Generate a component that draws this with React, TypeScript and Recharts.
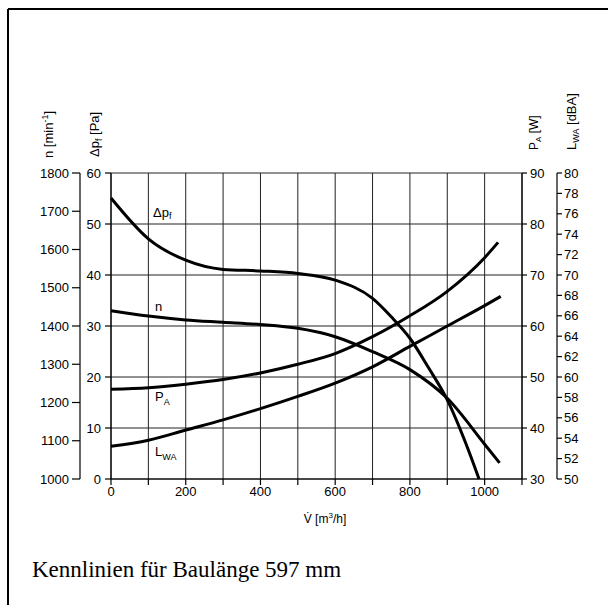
import React from 'react';
import { LineChart, Line, XAxis, YAxis, CartesianGrid } from 'recharts';

// Volumenstrom-Raster [m³/h]
const flowTicks = [0, 100, 200, 300, 400, 500, 600, 700, 800, 900, 1000, 1100];
const dpTicks = [0, 10, 20, 30, 40, 50, 60];
const nTicks = [1000, 1100, 1200, 1300, 1400, 1500, 1600, 1700, 1800];
const paTicks = [30, 40, 50, 60, 70, 80, 90];
const lwaTicks = [50, 52, 54, 56, 58, 60, 62, 64, 66, 68, 70, 72, 74, 76, 78, 80];

// Δp_f [Pa]
const dpFlow = [0, 100, 200, 300, 400, 500, 600, 700, 750, 800, 850, 900, 950, 985];
const dpValues = [55.1, 47.1, 42.9, 41.1, 40.8, 40.3, 39.0, 35.4, 31.8, 27.6, 21.8, 15.5, 6.9, 0];

// n [min-1]
const nFlow = [0, 100, 200, 300, 400, 500, 600, 700, 800, 900, 1000, 1040];
const nValues = [1440, 1426, 1416, 1410, 1404, 1394, 1372, 1333, 1286, 1211, 1091, 1042];

// P_A [W]
const paFlow = [0, 100, 200, 300, 400, 500, 600, 700, 800, 900, 1000, 1036];
const paValues = [47.6, 47.9, 48.6, 49.5, 50.8, 52.5, 54.6, 57.9, 62.0, 66.8, 73.4, 76.4];

// L_WA [dBA]
const lwaFlow = [0, 100, 200, 300, 400, 500, 600, 700, 800, 900, 1000, 1043];
const lwaValues = [53.2, 53.8, 54.8, 55.8, 56.9, 58.1, 59.4, 61.0, 63.0, 65.0, 67.0, 67.9];

const toRows = (xs: number[], ys: number[]) => xs.map((v, i) => ({ v, y: ys[i] }));

const dpData = toRows(dpFlow, dpValues);
const nData = toRows(nFlow, nValues);
const paData = toRows(paFlow, paValues);
const lwaData = toRows(lwaFlow, lwaValues);

// axis ids: recharts stacks same-side axes in id order, so P_A ("a1") sits next to the plot
const PA = 'a1';
const LWA = 'a2';

const FONT = '"Liberation Sans", Arial, sans-serif';
const tickStyle = { fill: '#000', fontSize: 13, fontFamily: FONT };
const axisStroke = { stroke: '#000', strokeWidth: 1.2 };

export default function App() {
  return (
    <div style={{ position: 'absolute', left: 0, top: 0, width: 608, height: 605, background: '#fff' }}>
      <LineChart width={608} height={605} margin={{ top: 173, right: 16, bottom: 96, left: 49 }}>
        <CartesianGrid xAxisId="v" yAxisId="dp" stroke="#222" strokeWidth={1} />
        <XAxis
          xAxisId="v"
          type="number"
          dataKey="v"
          domain={[0, 1100]}
          ticks={flowTicks}
          interval={0}
          tickFormatter={(v: number) => (v % 200 === 0 && v <= 1000 ? String(v) : '')}
          tick={tickStyle}
          axisLine={axisStroke}
          tickLine={axisStroke}
          tickSize={6}
          tickMargin={2}
          height={30}
        />
        <YAxis
          yAxisId="dp"
          orientation="left"
          type="number"
          domain={[0, 60]}
          ticks={dpTicks}
          interval={0}
          width={31}
          tick={tickStyle}
          axisLine={axisStroke}
          tickLine={axisStroke}
          tickSize={6}
          tickMargin={4}
        />
        <YAxis
          yAxisId="n"
          orientation="left"
          type="number"
          domain={[1000, 1800]}
          ticks={nTicks}
          interval={0}
          width={31}
          tick={tickStyle}
          axisLine={axisStroke}
          tickLine={axisStroke}
          tickSize={8}
          tickMargin={3}
        />
        <YAxis
          yAxisId={PA}
          orientation="right"
          type="number"
          domain={[30, 90]}
          ticks={paTicks}
          interval={0}
          width={35}
          tick={tickStyle}
          axisLine={axisStroke}
          tickLine={axisStroke}
          tickSize={5}
          tickMargin={3}
        />
        <YAxis
          yAxisId={LWA}
          orientation="right"
          type="number"
          domain={[50, 80]}
          ticks={lwaTicks}
          interval={0}
          width={35}
          tick={tickStyle}
          axisLine={axisStroke}
          tickLine={axisStroke}
          tickSize={5}
          tickMargin={2}
        />
        <Line data={dpData} xAxisId="v" yAxisId="dp" dataKey="y" type="monotone" stroke="#000" strokeWidth={3} dot={false} isAnimationActive={false} />
        <Line data={nData} xAxisId="v" yAxisId="n" dataKey="y" type="monotone" stroke="#000" strokeWidth={3} dot={false} isAnimationActive={false} />
        <Line data={paData} xAxisId="v" yAxisId={PA} dataKey="y" type="monotone" stroke="#000" strokeWidth={3} dot={false} isAnimationActive={false} />
        <Line data={lwaData} xAxisId="v" yAxisId={LWA} dataKey="y" type="monotone" stroke="#000" strokeWidth={3} dot={false} isAnimationActive={false} />
      </LineChart>

      <svg width={608} height={605} style={{ position: 'absolute', left: 0, top: 0, pointerEvents: 'none' }} fontFamily={FONT}>
        {/* Rahmen */}
        <line x1={8} y1={9} x2={608} y2={9} stroke="#000" strokeWidth={2} />
        <line x1={8} y1={9} x2={8} y2={605} stroke="#000" strokeWidth={2} />

        {/* Achsentitel */}
        <text transform="translate(53,158) rotate(-90)" fontSize={13} fill="#000">
          n [min<tspan fontSize={9} dy={-5}>-1</tspan><tspan dy={5}>]</tspan>
        </text>
        <text transform="translate(99,157) rotate(-90)" fontSize={13} fill="#000">
          Δp<tspan fontSize={9} dy={3}>f</tspan><tspan dy={-3}> [Pa]</tspan>
        </text>
        <text transform="translate(538,150) rotate(-90)" fontSize={12} fill="#000">
          P<tspan fontSize={8} dy={3}>A</tspan><tspan dy={-3}> [W]</tspan>
        </text>
        <text transform="translate(576,150) rotate(-90)" fontSize={13} fill="#000">
          L<tspan fontSize={9} dy={3}>WA</tspan><tspan dy={-3}> [dBA]</tspan>
        </text>
        <text x={325} y={523} textAnchor="middle" fontSize={12} fill="#000">
          V̇ [m<tspan fontSize={8} dy={-5}>3</tspan><tspan dy={5}>/h]</tspan>
        </text>

        {/* Kurvenbezeichnungen */}
        <text x={153} y={217} fontSize={13} fill="#000">
          Δp<tspan fontSize={9} dy={2}>f</tspan>
        </text>
        <text x={155} y={311} fontSize={13} fill="#000">n</text>
        <text x={155} y={401} fontSize={13} fill="#000">
          P<tspan fontSize={9} dy={4}>A</tspan>
        </text>
        <text x={155} y={456} fontSize={13} fill="#000">
          L<tspan fontSize={9} dy={4}>WA</tspan>
        </text>

        <text x={32} y={577} fontSize={23} fontFamily='"Liberation Serif", "Times New Roman", serif' fill="#000">
          Kennlinien für Baulänge 597 mm
        </text>
      </svg>
    </div>
  );
}
